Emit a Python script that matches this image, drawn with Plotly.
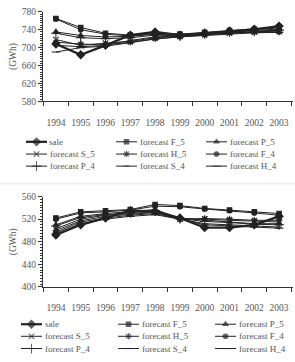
import plotly.graph_objects as go

years = [1994, 1995, 1996, 1997, 1998, 1999, 2000, 2001, 2002, 2003]
names = ["sale", "forecast F_5", "forecast P_5", "forecast S_5", "forecast H_5",
         "forecast F_4", "forecast P_4", "forecast S_4", "forecast H_4"]

# top chart (GWh)
top_sale = [708, 684, 705, 728, 735, 728, 732, 737, 741, 748]
top_F5 = [765, 745, 732, 728, 733, 730, 734, 738, 741, 746]
top_P5 = [735, 727, 724, 725, 730, 727, 732, 736, 739, 741]
top_S5 = [718, 705, 710, 714, 722, 725, 729, 733, 735, 737]
top_H5 = [712, 708, 706, 712, 720, 724, 728, 732, 734, 735]
top_F4 = [764, 740, 730, 726, 732, 729, 733, 737, 740, 744]
top_P4 = [732, 722, 720, 722, 728, 726, 731, 735, 737, 739]
top_S4 = [705, 702, 705, 716, 724, 726, 730, 733, 736, 738]
top_H4 = [690, 700, 703, 711, 719, 724, 727, 731, 733, 734]

# bottom chart (GWh)
bot_sale = [492, 510, 522, 535, 534, 522, 505, 505, 510, 525]
bot_F5 = [522, 533, 535, 537, 546, 544, 539, 536, 533, 530]
bot_P5 = [510, 525, 530, 533, 537, 522, 518, 515, 512, 512]
bot_S5 = [503, 520, 527, 530, 533, 520, 520, 518, 516, 515]
bot_H5 = [500, 517, 525, 529, 532, 520, 521, 520, 518, 518]
bot_F4 = [520, 531, 533, 536, 543, 542, 538, 535, 531, 527]
bot_P4 = [508, 523, 528, 532, 535, 521, 516, 514, 511, 510]
bot_S4 = [497, 515, 522, 527, 530, 520, 512, 510, 508, 506]
bot_H4 = [495, 512, 520, 525, 528, 520, 510, 508, 506, 504]

top_series = [top_sale, top_F5, top_P5, top_S5, top_H5, top_F4, top_P4, top_S4, top_H4]
bot_series = [bot_sale, bot_F5, bot_P5, bot_S5, bot_H5, bot_F4, bot_P4, bot_S4, bot_H4]

symbols = ["diamond", "square", "triangle-up", "x-thin-open", "asterisk-open",
           "circle", "cross-thin-open", "line-ew-open", "line-ew-open"]
sizes = [6, 4.5, 5, 5.5, 5.5, 4.5, 7, 4, 6]
widths = [2.2, 1, 1, 1, 1, 1, 1, 1, 1]
col = "#222222"
tcol = "#555555"
W, H = 295, 362

fig = go.Figure()
for i, n in enumerate(names):
    for series, xa, ya in [(top_series, "x", "y"), (bot_series, "x2", "y2")]:
        fig.add_trace(go.Scatter(
            x=years, y=series[i], name=n, xaxis=xa, yaxis=ya, showlegend=False,
            mode="lines+markers",
            line=dict(color=col, width=widths[i]),
            marker=dict(symbol=symbols[i], size=sizes[i], color=col,
                        line=dict(color=col, width=1.1)),
        ))

# manual legends (pixel coordinates on a hidden full-page overlay axis)
legend_layouts = [
    dict(cols=[26, 116, 206], rows=[140.7, 153.3, 165.7]),
    dict(cols=[21, 118, 215], rows=[328.3, 340.7, 353.3]),
]
annotations = []
for lay in legend_layouts:
    for i, n in enumerate(names):
        r, c = divmod(i, 3)
        x0 = lay["cols"][c]
        y0 = lay["rows"][r]
        fig.add_trace(go.Scatter(
            x=[x0, x0 + 10.5, x0 + 21], y=[y0, y0, y0], xaxis="x3", yaxis="y3",
            mode="lines+markers", showlegend=False, hoverinfo="skip",
            line=dict(color=col, width=widths[i]),
            marker=dict(symbol=symbols[i], size=[0, sizes[i], 0], color=col,
                        line=dict(color=col, width=[0, 1.1, 0])),
        ))
        annotations.append(dict(
            x=(x0 + 21.5) / W, y=1 - y0 / H, xref="paper", yref="paper",
            text=n, showarrow=False, xanchor="left", yanchor="middle",
            font=dict(family="Liberation Serif", size=9, color=tcol)))

font = dict(family="Liberation Serif", size=9.5, color=tcol)
xdom = [43 / W, 293 / W]
xcommon = dict(range=[1993.48, 2003.56], tickmode="array", tickvals=years,
               ticks="", showline=True, linecolor="#333333", linewidth=1,
               showgrid=False, zeroline=False, tickfont=font, ticklabelstandoff=12,
               minor=dict(tickmode="array", tickvals=[y + 0.5 for y in [1993] + years],
                          ticks="outside", ticklen=4, tickcolor="#333333"))
ycommon = dict(ticks="outside", ticklen=4, tickcolor="#333333", showline=True,
               linecolor="#333333", linewidth=1, showgrid=False, zeroline=False,
               tickfont=font, dtick=40,
               minor=dict(dtick=5, ticks="outside", ticklen=2.5, tickcolor="#333333"),
               title=dict(text="(GWh)", font=font, standoff=3))

fig.update_layout(
    width=W, height=H,
    margin=dict(l=0, r=0, t=0, b=0),
    paper_bgcolor="white", plot_bgcolor="rgba(0,0,0,0)",
    xaxis=dict(domain=xdom, anchor="y", **xcommon),
    yaxis=dict(domain=[1 - 99 / H, 1 - 7 / H], anchor="x", range=[580, 780], tick0=580, **ycommon),
    xaxis2=dict(domain=xdom, anchor="y2", **xcommon),
    yaxis2=dict(domain=[1 - 290 / H, 1 - 197 / H], anchor="x2", range=[400, 560], tick0=400, **ycommon),
    xaxis3=dict(domain=[0, 1], range=[0, W], visible=False, anchor="y3", fixedrange=True),
    yaxis3=dict(domain=[0, 1], range=[H, 0], visible=False, anchor="x3", fixedrange=True),
    annotations=annotations,
    shapes=[dict(type="line", xref="paper", yref="paper", x0=0, x1=1,
                 y0=1 - 184 / H, y1=1 - 184 / H,
                 line=dict(color="#e3e3e3", width=1))],
)

fig.write_html("out.html")
